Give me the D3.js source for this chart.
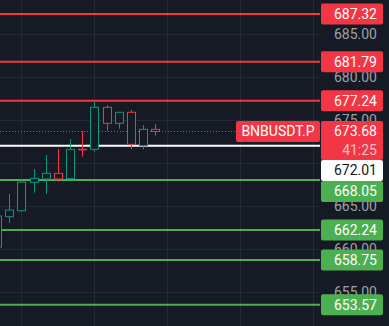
<!DOCTYPE html>
<html><head><meta charset="utf-8">
<script src="https://cdn.jsdelivr.net/npm/d3@7"></script>
<style>html,body{margin:0;padding:0;background:#161a25;overflow:hidden}</style>
</head><body>
<svg id="c" width="389" height="326"></svg>
<script>
// ---- data ----
const candleIdx = [0,1,2,3,4,5,6,7,8,9,10,11,12,13];
const opens  = [660.27,663.79,664.48,667.78,668.16,668.82,668.20,671.61,671.61,676.49,674.63,675.91,672.03,673.93];
const highs  = [664.00,666.42,668.13,669.32,670.95,671.65,672.81,673.74,677.14,676.75,675.91,676.17,674.43,674.55];
const lows   = [660.10,663.05,664.37,666.57,666.42,667.85,668.16,670.75,671.33,673.77,674.00,671.61,671.61,673.19];
const closes = [663.87,664.56,667.81,668.24,668.82,668.16,671.61,671.55,676.49,674.63,675.91,672.19,673.93,673.68];
const resistance = [687.32, 681.79, 677.24];
const support = [668.05, 662.24, 658.75, 653.57];
const markLevel = [672.01];
const currentPrice = 673.68;
const countdown = "41:25";
const symbol = "BNBUSDT.P";
const priceTicks = [655, 660, 665, 670, 675, 680, 685];
const timeGridIdx = [2, 8, 14, 20, 26];

// ---- setup ----
const W = 389, H = 326, plotRight = 320, axisLeft = 321, axisRight = 383;
const svg = d3.select("#c");
const y = d3.scaleLinear().domain([653.57, 687.32]).range([304.7, 14]);
const x = d3.scaleLinear().domain([1, 13]).range([9.3, 155.3]);
const RED = "#f23645", GREEN = "#4caf50", TEAL = "#089981", BG = "#161a25", GRID = "#252935";
const FONT = "Roboto, 'Noto Sans', sans-serif";

svg.append("rect").attr("width", W).attr("height", H).attr("fill", BG);

// grid
const g = svg.append("g");
g.selectAll("line.h").data(priceTicks).join("line")
  .attr("x1", 0).attr("x2", plotRight)
  .attr("y1", d => Math.round(y(d)) + 0.5).attr("y2", d => Math.round(y(d)) + 0.5)
  .attr("stroke", GRID).attr("stroke-width", 1);
g.selectAll("line.v").data(timeGridIdx).join("line")
  .attr("x1", d => Math.round(x(d)) + 0.5).attr("x2", d => Math.round(x(d)) + 0.5)
  .attr("y1", 0).attr("y2", H)
  .attr("stroke", GRID).attr("stroke-width", 1);

// level lines
const levels = [
  ...resistance.map(v => ({v, color: RED, text: "#fff"})),
  ...support.map(v => ({v, color: GREEN, text: "#fff"})),
  ...markLevel.map(v => ({v, color: "#ffffff", text: "#131722"}))
];
svg.append("g").selectAll("line").data(levels).join("line")
  .attr("x1", 0).attr("x2", plotRight)
  .attr("y1", d => y(d.v)).attr("y2", d => y(d.v))
  .attr("stroke", d => d.color).attr("stroke-width", 2);

// current price dotted line
svg.append("line").attr("x1", 0).attr("x2", 236)
  .attr("y1", Math.round(y(currentPrice)) + 0.5).attr("y2", Math.round(y(currentPrice)) + 0.5)
  .attr("stroke", RED).attr("stroke-width", 1).attr("stroke-dasharray", "1,2");

// candles
const candles = candleIdx.map((i, k) => ({i, o: opens[k], h: highs[k], l: lows[k], c: closes[k]}));
const cg = svg.append("g").selectAll("g").data(candles).join("g");
const bw = 8;
cg.each(function(d) {
  const col = d.c >= d.o ? TEAL : RED;
  const cx = Math.round(x(d.i)) + 0.5;
  const top = y(Math.max(d.o, d.c)), bot = y(Math.min(d.o, d.c));
  const sel = d3.select(this);
  sel.append("line").attr("x1", cx).attr("x2", cx).attr("y1", y(d.h)).attr("y2", top)
    .attr("stroke", col).attr("stroke-width", 1);
  sel.append("line").attr("x1", cx).attr("x2", cx).attr("y1", bot).attr("y2", y(d.l))
    .attr("stroke", col).attr("stroke-width", 1);
  sel.append("rect").attr("x", cx - bw/2).attr("y", top)
    .attr("width", bw).attr("height", Math.max(0.01, bot - top))
    .attr("fill", BG).attr("stroke", col).attr("stroke-width", 1);
});

// axis tick labels
svg.append("g").selectAll("text").data(priceTicks).join("text")
  .attr("x", 377).attr("y", d => y(d) + 5)
  .attr("text-anchor", "end").attr("fill", "#9ea1aa")
  .style("font", `14px ${FONT}`)
  .text(d => d3.format(".2f")(d));

// price labels with overlap resolution
const boxH = 21;
const labels = [
  ...levels.map(d => ({v: d.v, fill: d.color, text: d.text, h: boxH})),
  {v: currentPrice, fill: RED, text: "#fff", h: boxH * 2 - 3, current: true}
].map(d => ({...d, top: y(d.v) - boxH / 2}));
labels.sort((a, b) => a.top - b.top);
let prevBottom = -Infinity;
labels.forEach(d => { if (d.top < prevBottom) d.top = prevBottom; prevBottom = d.top + d.h; });

const lg = svg.append("g").selectAll("g").data(labels).join("g");
lg.append("rect").attr("x", axisLeft).attr("y", d => d.top)
  .attr("width", axisRight - axisLeft).attr("height", d => d.h).attr("rx", 2)
  .attr("fill", d => d.fill);
lg.append("text").attr("x", 377).attr("y", d => d.top + 15.5)
  .attr("text-anchor", "end").attr("fill", d => d.text)
  .style("font", `14px ${FONT}`).text(d => d3.format(".2f")(d.v));
lg.filter(d => d.current).append("text").attr("x", 377).attr("y", d => d.top + 34)
  .attr("text-anchor", "end").attr("fill", "rgba(255,255,255,0.7)")
  .style("font", `14px ${FONT}`).text(countdown);

// symbol label
const sy = y(currentPrice) - boxH / 2;
svg.append("rect").attr("x", 236).attr("y", sy).attr("width", plotRight - 236).attr("height", boxH)
  .attr("rx", 2).attr("fill", RED);
svg.append("text").attr("x", 278).attr("y", sy + 15.5).attr("text-anchor", "middle")
  .attr("fill", "#fff").style("font", `14px ${FONT}`).text(symbol);
</script>
</body></html>
